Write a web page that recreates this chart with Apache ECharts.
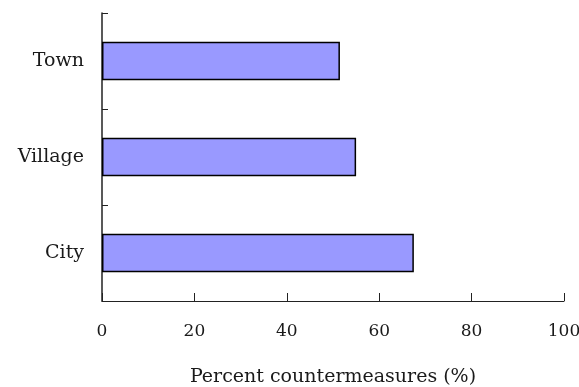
<!DOCTYPE html>
<html>
<head>
<meta charset="utf-8">
<style>
  html, body { margin: 0; padding: 0; background: #ffffff; }
  #chart { width: 579px; height: 387px; }
</style>
<script src="https://cdn.jsdelivr.net/npm/echarts@6/dist/echarts.min.js"></script>
</head>
<body>
<div id="chart"></div>
<script>
// Share of countermeasures by settlement type (bottom to top: City, Village, Town)
const categories = ['City', 'Village', 'Town'];
const percentValues = [67.5, 55, 51.5];
const xTicks = [0, 20, 40, 60, 80, 100];

const FONT = '"DejaVu Serif", serif';
const AXIS_COLOR = '#222222';
const TEXT_COLOR = '#1a1a1a';

const chart = echarts.init(document.getElementById('chart'), null, { renderer: 'canvas' });

chart.setOption({
  animation: false,
  backgroundColor: '#ffffff',
  grid: {
    left: 102, right: 15, top: 13, bottom: 86,
    containLabel: false,
    outerBoundsMode: 'none'
  },
  xAxis: {
    type: 'value',
    min: xTicks[0],
    max: xTicks[xTicks.length - 1],
    interval: xTicks[1] - xTicks[0],
    name: 'Percent countermeasures (%)',
    nameLocation: 'middle',
    nameGap: 67,
    nameTextStyle: { fontFamily: FONT, fontSize: 19, color: TEXT_COLOR },
    axisLine: { show: true, lineStyle: { color: AXIS_COLOR, width: 1 } },
    axisTick: { show: true, inside: true, length: 8, lineStyle: { color: AXIS_COLOR } },
    axisLabel: { fontFamily: FONT, fontSize: 17, color: TEXT_COLOR, margin: 22 },
    splitLine: { show: false }
  },
  yAxis: {
    type: 'category',
    data: categories,
    axisLine: { show: true, lineStyle: { color: AXIS_COLOR, width: 1.5 } },
    axisTick: { show: true, inside: true, length: 6, lineStyle: { color: AXIS_COLOR } },
    axisLabel: {
      fontFamily: FONT, fontSize: 19, color: TEXT_COLOR, margin: 18,
      padding: [6, 0, 0, 0]
    },
    splitLine: { show: false }
  },
  series: [{
    type: 'bar',
    data: percentValues,
    barWidth: '40%',
    itemStyle: { color: '#9999ff', borderColor: '#000000', borderWidth: 1.5 }
  }]
});
</script>
</body>
</html>
